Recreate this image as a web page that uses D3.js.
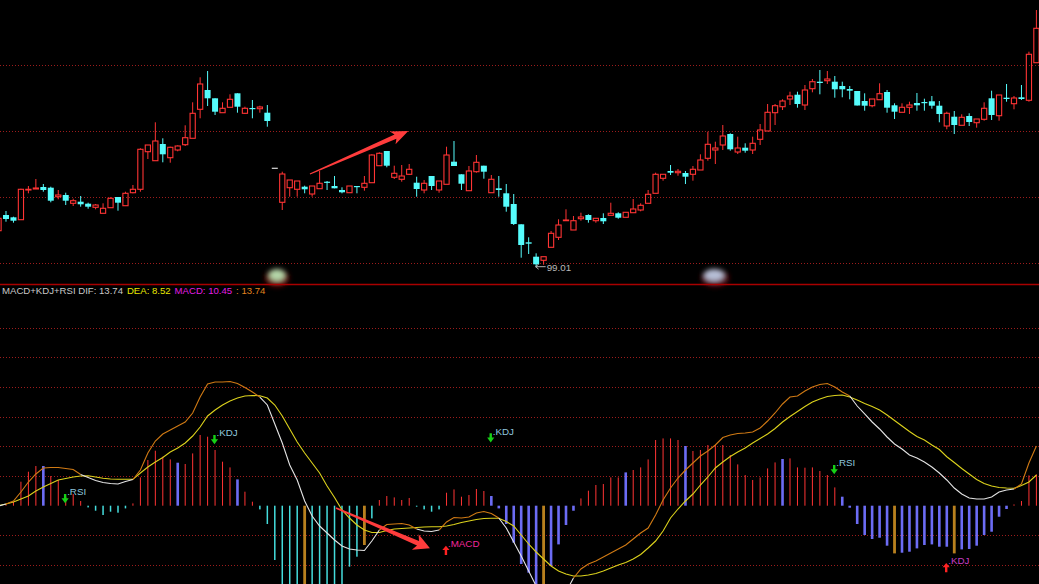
<!DOCTYPE html>
<html><head><meta charset="utf-8">
<script src="https://cdn.jsdelivr.net/npm/d3@7"></script>
<style>html,body{margin:0;padding:0;background:#000;overflow:hidden}</style>
</head><body><svg id="c" width="1039" height="584"></svg>
<script>
// ---------- DATA ----------
const opens = [
102.64,104.21,103.98,103.74,106.71,106.81,107.01,106.94,106.04,106.21,
105.38,105.54,105.34,104.98,104.38,104.94,106.01,105.14,106.44,106.78,
110.54,109.64,111.31,109.94,110.71,111.24,111.88,114.78,116.71,115.88,
114.44,114.98,116.38,114.38,114.91,114.84,114.44,108.88,105.48,106.94,
106.78,107.04,106.31,106.84,107.54,107.11,106.71,106.44,107.11,106.98,
107.44,109.14,110.61,107.98,107.78,108.28,107.44,106.71,108.11,106.71,
107.28,109.54,108.28,106.64,108.54,109.14,106.44,106.88,106.38,105.31,
103.28,101.48,100.04,99.68,100.98,101.98,103.64,102.71,103.84,104.21,
103.64,103.91,104.18,104.38,103.98,104.44,104.71,105.38,106.38,107.88,
108.61,108.44,108.41,108.28,108.71,109.88,110.71,111.21,112.31,110.51,
110.94,110.71,111.78,112.61,114.44,115.04,115.81,116.24,115.21,116.84,
117.54,117.64,117.54,117.11,116.81,116.61,115.61,115.14,115.74,116.51,
115.18,114.48,114.98,115.41,115.51,115.58,115.14,113.11,114.04,113.18,
114.11,113.44,113.78,115.88,114.14,115.94,115.34,115.98,115.68,119.44];
const highs = [
104.11,104.61,104.04,106.84,107.11,107.81,107.31,107.04,106.71,106.44,
105.84,106.11,105.44,105.31,105.38,105.98,106.01,106.54,107.21,110.88,
111.21,113.48,111.88,111.04,111.18,113.18,115.48,117.98,118.61,115.88,
115.48,116.28,116.38,115.04,115.71,115.14,115.21,108.88,108.54,107.71,
107.61,107.14,107.11,108.61,107.61,108.11,106.98,107.11,107.11,108.11,
110.28,110.48,110.61,109.14,109.21,109.31,108.04,107.71,108.11,107.61,
111.04,111.61,108.28,109.11,110.21,109.14,108.21,108.11,107.31,106.31,
103.28,101.98,100.38,100.04,102.61,103.78,104.78,104.11,104.44,104.28,
103.88,104.38,105.44,104.48,104.48,105.81,105.38,106.71,108.44,108.28,
109.21,108.81,108.61,109.11,110.28,112.54,111.54,113.21,112.38,112.04,
111.38,112.04,113.31,115.31,115.31,115.78,116.54,116.54,117.21,117.81,
118.71,118.61,118.11,117.54,117.11,116.61,116.38,115.81,117.38,116.71,
115.38,115.38,115.54,116.41,115.84,116.11,115.61,114.54,114.61,114.28,
114.38,113.81,115.48,116.64,116.21,117.31,116.11,117.21,120.54,124.71];
const lows = [
102.51,103.54,103.44,103.74,106.38,106.81,106.54,105.48,105.78,105.21,
105.11,105.04,104.84,104.78,104.38,104.94,104.64,105.14,106.38,106.54,
109.81,109.64,109.48,109.44,110.58,111.11,111.88,113.88,115.11,114.21,
114.44,114.98,114.44,114.31,113.88,114.44,113.04,108.88,104.71,106.04,
106.04,106.38,106.04,106.84,106.71,106.88,106.38,106.44,106.38,106.64,
107.44,109.14,108.98,107.81,107.54,108.21,106.04,106.38,106.71,106.44,
107.28,109.11,106.71,106.64,108.44,107.84,106.44,106.04,104.54,103.21,
99.94,100.31,99.01,99.24,100.98,101.71,103.64,102.71,103.64,103.44,
103.44,103.31,104.18,103.84,103.98,104.44,104.58,105.38,106.38,107.64,
108.21,108.14,107.31,107.64,108.71,109.64,109.31,110.71,110.64,110.31,
110.44,110.31,111.21,112.61,113.21,114.71,115.21,114.94,114.71,116.48,
116.28,117.31,115.94,115.98,115.78,115.16,114.64,114.98,115.74,114.44,
113.81,114.48,114.31,114.64,114.64,114.84,113.48,112.78,112.31,113.18,
113.11,112.94,113.64,113.71,113.64,115.54,114.78,115.71,115.54,119.44];
const closes = [
103.88,103.81,103.64,106.78,106.78,106.91,106.71,105.64,106.21,105.64,
105.64,105.28,105.04,105.21,104.88,105.88,105.44,106.38,106.78,110.78,
111.21,111.61,110.28,110.98,111.11,111.94,114.38,117.31,115.88,114.54,
114.88,115.78,115.04,114.88,114.81,115.01,113.61,108.88,108.31,107.71,
107.61,106.78,107.11,107.38,107.44,106.88,106.48,107.11,107.01,107.38,
110.21,110.38,109.14,108.38,108.11,108.78,106.81,107.38,107.11,107.61,
110.21,109.11,107.34,108.61,109.48,108.54,107.78,106.71,105.04,103.31,
101.21,101.34,99.28,100.04,102.38,103.21,103.71,103.64,104.01,103.71,
103.88,103.58,104.38,103.94,104.48,104.81,105.18,106.28,108.28,108.28,
108.44,108.58,108.04,108.78,109.71,111.28,110.91,112.11,110.78,110.91,
110.64,111.38,112.71,114.48,115.14,115.61,116.11,115.31,116.71,117.54,
117.41,117.81,116.78,116.78,116.64,115.16,115.14,115.81,116.34,114.94,
114.54,114.98,115.21,115.18,115.41,115.14,114.31,114.38,113.21,113.98,
113.51,113.81,114.88,114.21,116.21,115.81,115.91,115.81,120.28,122.88];

const macdHist = [
0.1,0.5,1.33,8.0,11.33,13.23,13.23,9.9,8.57,3.0,
3.9,1.57,-0.57,-1.67,-3.1,-2.0,-2.33,-0.9,0.77,9.43,
15.23,18.33,16.33,15.43,14.33,13.9,17.43,23.57,23.0,18.57,
14.67,12.77,8.77,4.67,1.33,-1.23,-6.1,-18.1,-31.7,-33.3,
-35.0,-36.0,-35.3,-33.3,-31.7,-30.0,-28.0,-20.33,-17.0,-13.1,
-4.23,1.9,3.23,2.77,1.9,2.57,-0.33,-1.23,-2.0,-1.23,
4.33,5.43,3.0,3.57,5.57,4.9,3.23,-0.9,-6.1,-12.33,
-19.43,-22.33,-27.3,-28.3,-20.1,-12.9,-6.43,-1.67,2.43,5.0,
6.9,7.23,9.43,9.43,11.1,11.9,12.77,15.43,21.9,22.43,
22.43,21.9,19.9,18.23,18.57,20.23,20.23,20.23,16.9,13.77,
10.23,8.57,9.43,12.43,14.43,15.57,15.77,12.77,12.67,12.77,
11.57,10.23,6.1,3.0,-0.67,-6.1,-9.77,-11.1,-10.67,-13.33,
-15.9,-15.67,-15.33,-14.23,-13.1,-12.9,-13.67,-13.67,-15.9,-14.57,
-14.43,-13.33,-9.77,-8.67,-3.67,-1.1,0.43,1.57,10.1,10.45];
const blueMarks = [6,24,32,66,67,68,69,70,71,72,74,75,76,77,84,92,105,113,114,115,116,117,118,119,121,122,123,124,125,126,127,129,130,131,132,133,134,135];
const goldMarks = [41,49,73,120,128];

const difValues = [
-0.1,0.57,1.57,4.57,7.9,10.57,12.57,12.73,12.73,12.4,
12.07,10.4,9.4,8.4,7.73,7.4,7.23,8.07,8.73,11.9,
17.57,21.57,23.9,25.23,26.57,27.9,30.9,36.23,40.57,41.23,
41.23,41.4,40.73,39.4,37.9,36.23,33.57,27.23,20.9,13.57,
8.57,1.57,-3.43,-6.77,-9.1,-11.43,-13.43,-14.43,-14.77,-14.93,
-11.77,-8.1,-6.27,-6.1,-5.93,-6.43,-7.77,-8.43,-8.6,-8.1,
-5.43,-3.93,-4.1,-3.77,-2.43,-1.93,-2.6,-4.1,-7.43,-12.1,
-16.77,-21.77,-26.77,-30.1,-32.1,-31.43,-28.77,-24.1,-21.1,-19.43,
-18.43,-17.1,-15.77,-14.43,-13.1,-11.1,-9.1,-7.43,-3.1,1.9,
5.9,9.23,11.9,14.23,16.57,18.23,20.23,22.73,23.57,24.07,
24.23,24.57,25.9,28.23,30.9,33.9,36.23,36.57,38.23,39.57,
40.4,40.73,39.57,37.9,36.57,33.23,30.57,27.9,25.57,22.9,
20.57,18.9,16.9,15.9,14.57,12.9,10.9,8.57,5.9,3.9,
2.57,2.23,2.23,2.9,4.57,5.23,5.57,7.23,14.23,19.9];
const deaValues = [
0.07,0.57,1.23,2.23,3.23,4.9,6.23,7.4,8.57,9.07,
9.57,9.9,10.0,9.57,9.13,8.9,8.8,8.8,8.8,10.9,
12.9,14.57,16.07,17.9,19.23,20.9,23.23,26.23,29.9,31.9,
33.57,34.9,35.9,36.57,36.73,36.67,35.9,33.57,29.9,25.57,
21.23,17.57,14.23,10.9,6.57,2.73,-1.43,-4.1,-6.43,-8.1,
-8.93,-8.93,-8.27,-7.77,-7.6,-7.43,-7.27,-7.1,-7.0,-7.0,
-6.77,-6.27,-5.6,-5.1,-4.6,-4.27,-4.2,-4.2,-5.27,-6.77,
-9.77,-12.77,-15.43,-17.77,-20.1,-21.77,-22.77,-23.43,-23.43,-23.1,
-22.6,-21.77,-20.77,-19.77,-18.93,-17.77,-16.27,-14.1,-11.77,-8.43,
-4.1,-1.1,1.57,3.9,6.9,9.57,12.57,14.57,16.4,17.9,
19.23,20.9,22.4,23.9,25.73,27.9,29.73,31.4,33.07,34.57,
35.57,36.4,36.73,36.9,36.23,35.23,34.07,33.07,31.9,30.23,
28.4,26.57,24.73,23.07,21.9,20.23,18.73,16.33,14.4,12.4,
10.57,8.73,7.4,6.57,6.07,5.9,5.8,6.73,7.9,10.23];

const priceGridLevels = [99.39, 105.99, 112.59, 119.19];
const oscGridLevels = [-19.8, -9.9, 9.9, 19.8, 29.7, 39.6, 49.5, 59.4];
const headerLabels = ["MACD+KDJ+RSI DIF: 13.74", "DEA: 8.52", "MACD: 10.45", ": 13.74"];

const signalIndex = [9, 29, 66, 60, 112, 127];
const signalDirection = ["down", "down", "down", "up", "down", "up"];
const signalName = [".RSI", ".KDJ", ".KDJ", ".MACD", ".RSI", ".KDJ"];
const signalLevel = [3.9, 23.57, 24.13, -16.43, 13.57, -22.2];

// annotation arrows: [tailIndex, tailValue, tipIndex, tipValue]
const priceArrow = [41.71, 108.31, 54.88, 112.61];
const oscArrow = [45.19, -0.77, 57.78, -14.2];

// ---------- CHART ----------
const W = 1039, H = 584;
const svg = d3.select("#c");
svg.append("rect").attr("width", W).attr("height", H).attr("fill", "#000");
const n = opens.length;
const x = d3.scaleLinear().domain([0, n - 1]).range([-1.47, 1036.4]);
const yP = d3.scaleLinear().domain([97.21, 125.71]).range([285, 0]);
const yO = d3.scaleLinear().domain([-26.1, 73.2]).range([584, 286.1]);

const defs = svg.append("defs");
defs.append("clipPath").attr("id", "clipLow").append("rect")
  .attr("x", 0).attr("y", 286).attr("width", W).attr("height", H - 286);
defs.append("clipPath").attr("id", "clipTop").append("rect")
  .attr("x", 0).attr("y", 0).attr("width", W).attr("height", 284);
defs.append("filter").attr("id", "blur").attr("x", "-50%").attr("y", "-50%").attr("width", "200%").attr("height", "200%")
  .append("feGaussianBlur").attr("stdDeviation", 2.6);

const gridColor = "#9c1c1c";
svg.append("g").selectAll("line").data(priceGridLevels).join("line")
  .attr("x1", 0).attr("x2", W)
  .attr("y1", d => Math.round(yP(d)) + 0.5).attr("y2", d => Math.round(yP(d)) + 0.5)
  .attr("stroke", gridColor).attr("stroke-width", 1).attr("stroke-dasharray", "1,2");
svg.append("g").selectAll("line").data(oscGridLevels).join("line")
  .attr("x1", 0).attr("x2", W)
  .attr("y1", d => Math.round(yO(d)) + 0.5).attr("y2", d => Math.round(yO(d)) + 0.5)
  .attr("stroke", gridColor).attr("stroke-width", 1).attr("stroke-dasharray", "1,2");

// blurred smudges on the separator
const smudge = svg.append("g").attr("filter", "url(#blur)");
smudge.append("ellipse").attr("cx", 277).attr("cy", 278).attr("rx", 12).attr("ry", 9).attr("fill", "#6a0c0c");
smudge.append("ellipse").attr("cx", 277).attr("cy", 275).attr("rx", 8).attr("ry", 6).attr("fill", "#b4d6a8");
smudge.append("ellipse").attr("cx", 715).attr("cy", 278).attr("rx", 14).attr("ry", 9).attr("fill", "#5a0c14");
smudge.append("ellipse").attr("cx", 714).attr("cy", 275).attr("rx", 10).attr("ry", 6).attr("fill", "#b6bed6");

// separator
svg.append("line").attr("x1", 0).attr("x2", W).attr("y1", 284.5).attr("y2", 284.5)
  .attr("stroke", "#a80000").attr("stroke-width", 1.3);

// candles
const RED = "#ff3434", CYAN = "#56fcfc", FLAT = "#dcdcdc";
const cg = svg.append("g").attr("clip-path", "url(#clipTop)");
d3.range(n).forEach(i => {
  const o = opens[i], h = highs[i], l = lows[i], c = closes[i], xc = x(i);
  const g = cg.append("g");
  if (c === o && h === l) {
    g.append("line").attr("x1", xc - 3).attr("x2", xc + 3).attr("y1", yP(o)).attr("y2", yP(o))
      .attr("stroke", FLAT).attr("stroke-width", 1.2);
  } else if (c >= o) {
    g.append("line").attr("x1", xc).attr("x2", xc).attr("y1", yP(h)).attr("y2", yP(c))
      .attr("stroke", RED).attr("stroke-width", 1);
    g.append("line").attr("x1", xc).attr("x2", xc).attr("y1", yP(o)).attr("y2", yP(l))
      .attr("stroke", RED).attr("stroke-width", 1);
    g.append("rect").attr("x", xc - 2.6).attr("y", yP(c)).attr("width", 5.2)
      .attr("height", Math.max(yP(o) - yP(c), 0.3))
      .attr("fill", "none").attr("stroke", RED).attr("stroke-width", 1.1);
  } else {
    g.append("line").attr("x1", xc).attr("x2", xc).attr("y1", yP(h)).attr("y2", yP(l))
      .attr("stroke", CYAN).attr("stroke-width", 1);
    g.append("rect").attr("x", xc - 3).attr("y", yP(o)).attr("width", 6)
      .attr("height", Math.max(yP(c) - yP(o), 1.2)).attr("fill", CYAN);
  }
});

// low label
const minLow = d3.min(lows), minIdx = lows.indexOf(minLow);
const lx = x(minIdx) - 0.5, ly = yP(minLow) - 0.3;
svg.append("path").attr("d", `M${lx + 10},${ly}H${lx}M${lx + 3},${ly - 2.5}L${lx},${ly}L${lx + 3},${ly + 2.5}`)
  .attr("stroke", "#b4b4b4").attr("fill", "none").attr("stroke-width", 1);
svg.append("text").attr("x", lx + 11).attr("y", ly + 4)
  .attr("font-family", "'Liberation Sans', Arial, sans-serif").attr("font-size", 9.8)
  .attr("fill", "#b8b8b8").text(d3.format(".2f")(minLow));

// upper annotation arrow
function arrowPoly(T, P, tailW, shaftW, headLen, headHalf) {
  const dx = P[0] - T[0], dy = P[1] - T[1], L = Math.hypot(dx, dy);
  const ux = dx / L, uy = dy / L, nx = -uy, ny = ux;
  const B = [P[0] - ux * headLen, P[1] - uy * headLen];
  const Bn = [P[0] - ux * (headLen - 3), P[1] - uy * (headLen - 3)];
  const pt = (b, s) => [b[0] + nx * s, b[1] + ny * s];
  return [pt(T, tailW / 2), pt(Bn, shaftW / 2), pt(B, headHalf), P, pt(B, -headHalf), pt(Bn, -shaftW / 2), pt(T, -tailW / 2)];
}
const ARROW = "#ff3c3c";
svg.append("polygon")
  .attr("points", arrowPoly([x(priceArrow[0]), yP(priceArrow[1])], [x(priceArrow[2]), yP(priceArrow[3])], 1.2, 4.6, 17, 7).join(" "))
  .attr("fill", ARROW);

// header
const header = svg.append("text").attr("y", 294)
  .attr("font-family", "'Liberation Sans', Arial, sans-serif").attr("font-size", 9.6);
const headerColors = ["#c8c8c8", "#e8e800", "#e41ee4", "#e0821e"];
let hx = 2;
headerLabels.forEach((t, k) => {
  const ts = header.append("tspan").attr("x", hx).attr("fill", headerColors[k]).text(t);
  hx += ts.node().getComputedTextLength() + 3.9;
});

// lower panel
const low = svg.append("g").attr("clip-path", "url(#clipLow)");
const y0 = yO(0);
const kindOf = i => goldMarks.includes(i) ? "gold" : blueMarks.includes(i) ? "blue" : (macdHist[i] >= 0 ? "pos" : "neg");
const histColor = { pos: "#ff3434", neg: "#44dcdc", blue: "#6c6cf4", gold: "#b8801e" };
const histWidth = { pos: 1, neg: 1.5, blue: 2.6, gold: 2.8 };
low.append("g").selectAll("rect").data(d3.range(n)).join("rect")
  .attr("x", i => x(i) - histWidth[kindOf(i)] / 2)
  .attr("width", i => histWidth[kindOf(i)])
  .attr("y", i => Math.min(yO(macdHist[i]), y0))
  .attr("height", i => Math.abs(yO(macdHist[i]) - y0))
  .attr("fill", i => histColor[kindOf(i)]);

// DEA line
low.append("path").datum(d3.range(n))
  .attr("d", d3.line().x(i => x(i)).y(i => yO(deaValues[i])))
  .attr("fill", "none").attr("stroke", "#dcd21c").attr("stroke-width", 1.1);

// DIF line, orange above DEA, white below
const segs = [];
let cur = null;
for (let i = 0; i < n - 1; i++) {
  const above = (difValues[i] + difValues[i + 1]) >= (deaValues[i] + deaValues[i + 1]);
  const col = above ? "#d07a14" : "#e4e4e4";
  if (!cur || cur.col !== col) { cur = { col, idx: [i] }; segs.push(cur); }
  cur.idx.push(i + 1);
}
const difLine = d3.line().x(i => x(i)).y(i => yO(difValues[i]));
low.append("g").selectAll("path").data(segs).join("path")
  .attr("d", s => difLine(s.idx)).attr("fill", "none")
  .attr("stroke", s => s.col).attr("stroke-width", 1.1);

// lower annotation arrow
svg.append("polygon")
  .attr("points", arrowPoly([x(oscArrow[0]), yO(oscArrow[1])], [x(oscArrow[2]), yO(oscArrow[3])], 1.6, 5, 16, 8.5).join(" "))
  .attr("fill", ARROW);

// signals
const sg = svg.append("g");
signalIndex.forEach((si, k) => {
  const sx = x(si) - 0.6, lv = yO(signalLevel[k]);
  let top;
  if (signalDirection[k] === "down") {
    top = lv;
    sg.append("path").attr("d",
      `M${sx - 1.2},${lv}H${sx + 1.2}V${lv + 4.3}H${sx + 3.6}L${sx},${lv + 9.3}L${sx - 3.6},${lv + 4.3}H${sx - 1.2}Z`)
      .attr("fill", "#16d016");
  } else {
    top = lv - 9.3;
    sg.append("path").attr("d",
      `M${sx - 1.2},${lv}H${sx + 1.2}V${lv - 5}H${sx + 3.6}L${sx},${lv - 9.3}L${sx - 3.6},${lv - 5}H${sx - 1.2}Z`)
      .attr("fill", "#ff2222");
  }
  const col = signalDirection[k] === "down" ? "#8ec6de" : (signalName[k] === ".MACD" ? "#f0289c" : "#c63cc6");
  sg.append("text").attr("x", sx + 2).attr("y", top + 1.2)
    .attr("font-family", "'Liberation Sans', Arial, sans-serif").attr("font-size", 9.8)
    .attr("fill", col).text(signalName[k]);
});
</script>
</body></html>
